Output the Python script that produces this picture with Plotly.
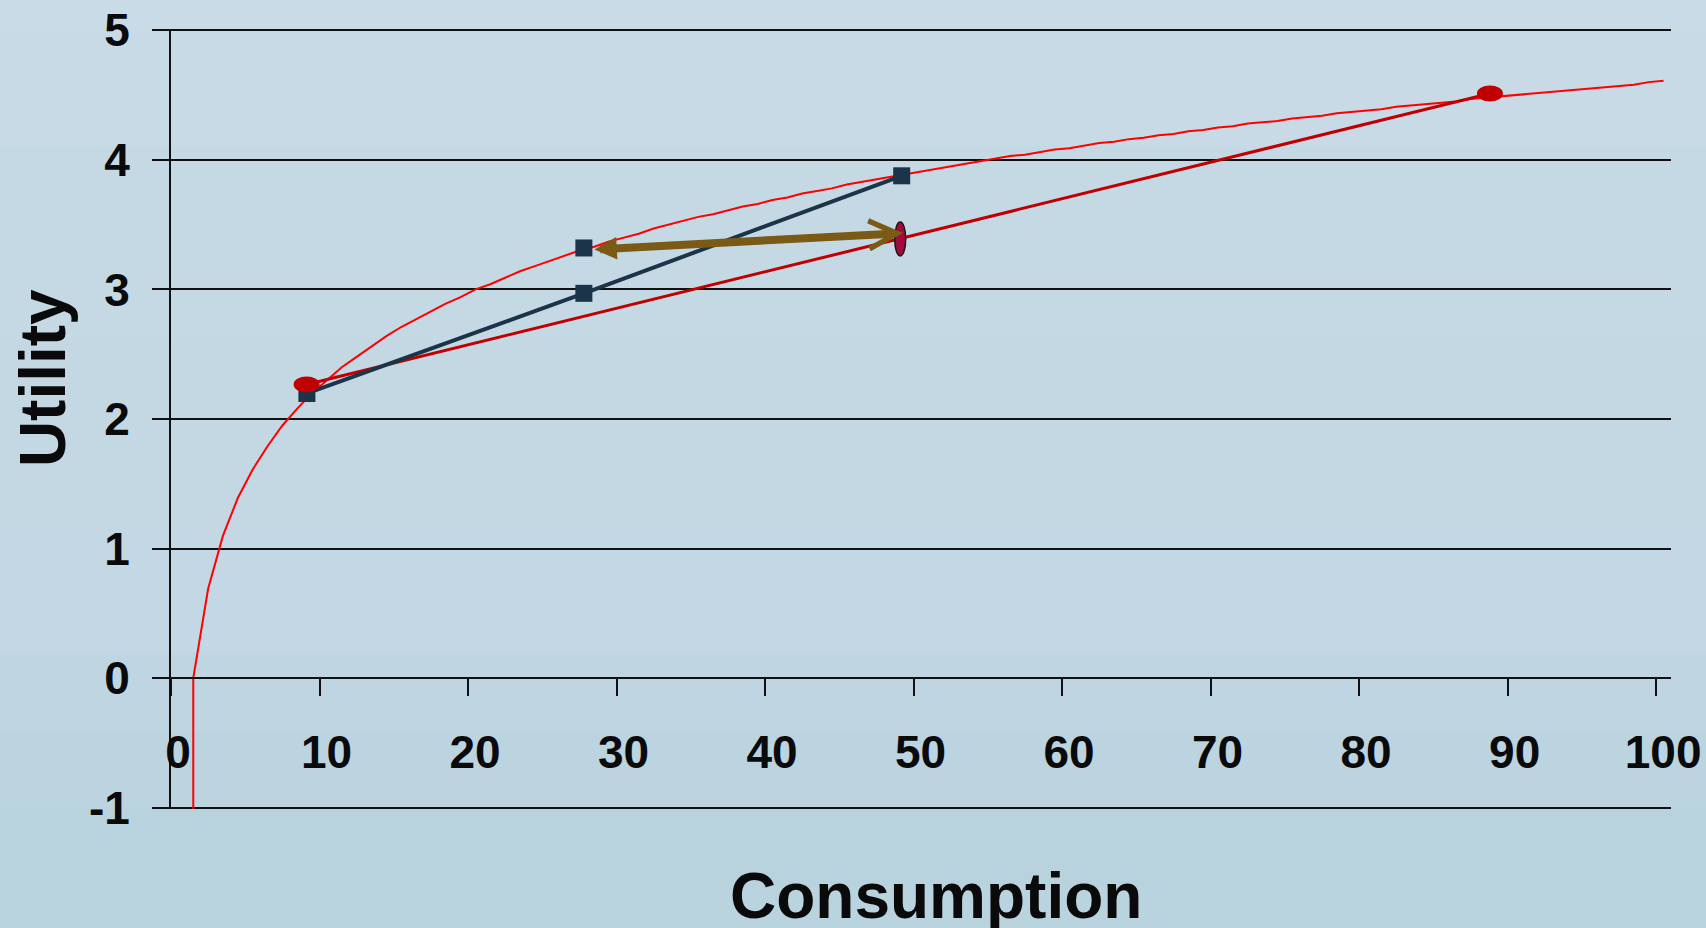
import plotly.graph_objects as go

# ---------------- data ----------------
consumption = [1, 1] + list(range(2, 101))
utility = [-1.05, 0.00, 0.69, 1.10, 1.39, 1.61, 1.79, 1.95, 2.08, 2.20, 2.30,
           2.40, 2.48, 2.56, 2.64, 2.71, 2.77, 2.83, 2.89, 2.94, 3.00,
           3.04, 3.09, 3.14, 3.18, 3.22, 3.26, 3.30, 3.33, 3.37, 3.40,
           3.43, 3.47, 3.50, 3.53, 3.56, 3.58, 3.61, 3.64, 3.66, 3.69,
           3.71, 3.74, 3.76, 3.78, 3.81, 3.83, 3.85, 3.87, 3.89, 3.91,
           3.93, 3.95, 3.97, 3.99, 4.01, 4.03, 4.04, 4.06, 4.08, 4.09,
           4.11, 4.13, 4.14, 4.16, 4.17, 4.19, 4.20, 4.22, 4.23, 4.25,
           4.26, 4.28, 4.29, 4.30, 4.32, 4.33, 4.34, 4.36, 4.37, 4.38,
           4.39, 4.41, 4.42, 4.43, 4.44, 4.45, 4.47, 4.48, 4.49, 4.50,
           4.51, 4.52, 4.53, 4.54, 4.55, 4.56, 4.57, 4.58, 4.60, 4.61]

# red chord between the two red dots
chord_x = [8.63, 88.31]
chord_y = [2.266, 4.512]

# dark chord (squares) and the separate upper square
sq_line_x = [8.65, 27.3, 48.7]
sq_line_y = [2.197, 2.97, 3.877]
sq_top_x = [27.3]
sq_top_y = [3.32]

# small maroon ellipse on the red chord
ell_x = 48.6
ell_y = 3.39

# double arrow (start -> end)
arrow_start = (27.91, 3.308)
arrow_end = (48.79, 3.435)

xtick_values = [0, 10, 20, 30, 40, 50, 60, 70, 80, 90, 100]
xtick_labels = ["0", "10", "20", "30", "40", "50", "60", "70", "80", "90", "100"]
ytick_values = [-1, 0, 1, 2, 3, 4, 5]
ytick_labels = ["-1", "0", "1", "2", "3", "4", "5"]

x_title = "Consumption"
y_title = "Utility"

# ---------------- figure ----------------
FONT = "Liberation Sans, Arial, sans-serif"
YR = [-1.01, 5.01]

fig = go.Figure()

fig.add_trace(go.Scatter(x=consumption, y=utility, mode="lines",
                         line=dict(color="#ff0000", width=2), hoverinfo="skip"))
fig.add_trace(go.Scatter(x=chord_x, y=chord_y, mode="lines",
                         line=dict(color="#c00000", width=3), hoverinfo="skip"))
fig.add_trace(go.Scatter(x=sq_line_x, y=sq_line_y, mode="lines+markers",
                         line=dict(color="#1b3449", width=4),
                         marker=dict(symbol="square", size=17, color="#1b3449"),
                         hoverinfo="skip"))
fig.add_trace(go.Scatter(x=sq_top_x, y=sq_top_y, mode="markers",
                         marker=dict(symbol="square", size=17, color="#1b3449"),
                         hoverinfo="skip"))

shapes = []
# background gradient bands (paper coordinates cover the whole page)
bands = [
    (1.0, 1.05, "#c8dbe7"), (0.85, 1.0, "#c7dae6"), (0.6, 0.85, "#c5d9e5"),
    (0.35, 0.6, "#c4d8e4"), (0.2, 0.35, "#c3d8e4"), (0.1, 0.2, "#bfd6e2"),
    (0.0, 0.1, "#bbd4e0"), (-0.1, 0.0, "#b8d2de"), (-0.16, -0.1, "#b9d3df"),
]
for y0, y1, col in bands:
    shapes.append(dict(type="rect", xref="paper", yref="paper",
                       x0=-0.12, x1=1.03, y0=y0, y1=y1, fillcolor=col,
                       line=dict(width=0), layer="below"))

# red dots (ellipses)
for cx, cy in zip(chord_x, chord_y):
    shapes.append(dict(type="circle", xref="x", yref="y",
                       xsizemode="pixel", ysizemode="pixel",
                       xanchor=cx, yanchor=cy, x0=-13, x1=13, y0=-8, y1=8,
                       fillcolor="#c00000", line=dict(color="#c00000", width=0),
                       layer="above"))
# maroon ellipse
shapes.append(dict(type="circle", xref="x", yref="y",
                   xsizemode="pixel", ysizemode="pixel",
                   xanchor=ell_x, yanchor=ell_y, x0=-5.5, x1=5.5, y0=-17, y1=17,
                   fillcolor="#a00a3e", line=dict(color="#2a1010", width=1.5),
                   layer="above"))

annotations = [
    dict(x=arrow_end[0], y=arrow_end[1], ax=arrow_start[0], ay=arrow_start[1],
         xref="x", yref="y", axref="x", ayref="y", text="", showarrow=True,
         arrowside="end+start", arrowhead=5, startarrowhead=2,
         arrowsize=0.69, startarrowsize=0.56, arrowwidth=8,
         arrowcolor="#7b5a16"),
    dict(text=x_title, xref="paper", yref="paper", x=0.5097, y=-0.111,
         xanchor="center", yanchor="middle", showarrow=False,
         font=dict(family=FONT, size=64, color="#0a0a0a", weight="bold")),
    dict(text=y_title, xref="paper", yref="paper", x=-0.0857, y=0.553,
         xanchor="center", yanchor="middle", showarrow=False, textangle=-90,
         font=dict(family=FONT, size=64, color="#0a0a0a", weight="bold")),
]

x_boundaries = [v - 0.5 for v in xtick_values]

fig.update_layout(
    width=1706, height=928,
    margin=dict(l=171, r=35, t=29, b=119, autoexpand=False),
    paper_bgcolor="#c5d9e5", plot_bgcolor="rgba(0,0,0,0)",
    showlegend=False,
    shapes=shapes, annotations=annotations,
    xaxis=dict(type="linear", range=[-0.5, 100.5], showgrid=False, zeroline=False,
               automargin=False,
               tickmode="array", tickvals=x_boundaries, ticktext=xtick_labels,
               ticks="outside", ticklen=17, tickwidth=2, tickcolor="#111111",
               showline=True, linecolor="#111111", linewidth=2,
               anchor="free", position=(0 - YR[0]) / (YR[1] - YR[0]),
               ticklabelshift=7, ticklabelstandoff=17,
               tickfont=dict(family=FONT, size=46, color="#0a0a0a", weight="bold")),
    yaxis=dict(range=YR, tickmode="array", tickvals=ytick_values, ticktext=ytick_labels,
               automargin=False,
               showgrid=True, gridcolor="#111111", gridwidth=2, zeroline=False,
               ticks="outside", ticklen=17, tickwidth=2, tickcolor="#111111",
               showline=True, linecolor="#111111", linewidth=2,
               ticklabelstandoff=13,
               tickfont=dict(family=FONT, size=46, color="#0a0a0a", weight="bold")),
)

fig.write_html("out.html",
               config={"displayModeBar": False},
               post_script="document.body.style.margin='0';"
                           "document.body.style.overflow='hidden';")
